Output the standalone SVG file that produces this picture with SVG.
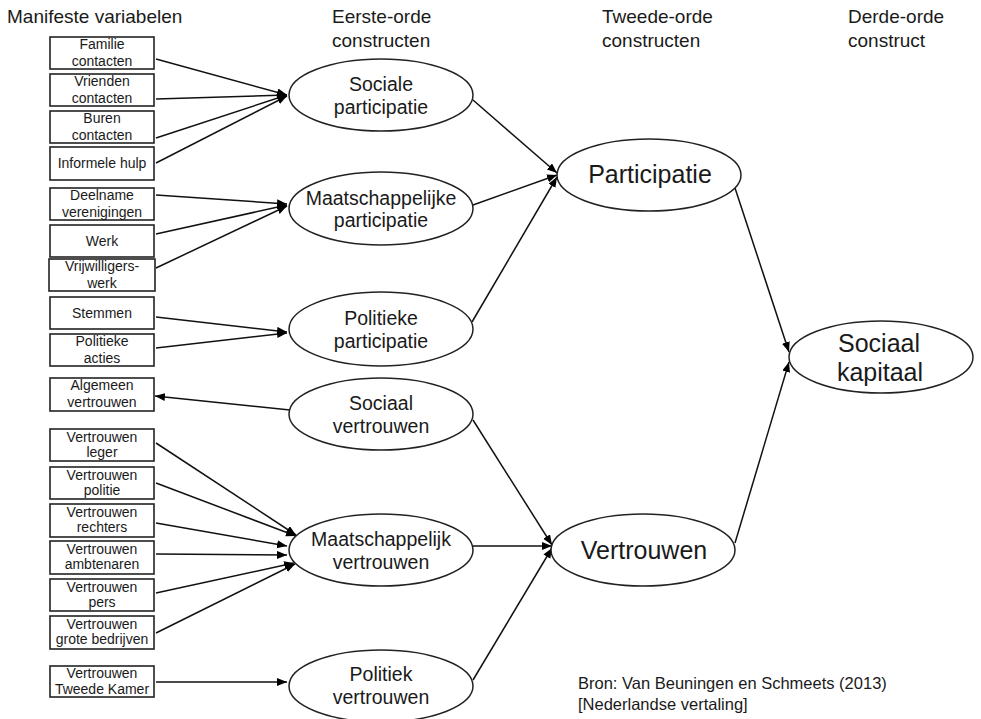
<svg xmlns="http://www.w3.org/2000/svg" width="981" height="719" viewBox="0 0 981 719">
<defs>
<style>
text{font-family:"Liberation Sans",Arial,sans-serif;fill:#1a1a1a}
.h{font-size:19px}
.b{font-size:14px;text-anchor:middle}
.e{font-size:19.5px;text-anchor:middle}
.E{font-size:25px;text-anchor:middle}
.s{font-size:16.5px}
rect{fill:#fff;stroke:#222;stroke-width:1.6}
ellipse{fill:#fff;stroke:#222;stroke-width:1.5}
#connectors line{stroke:#111;stroke-width:1.5;marker-end:url(#ah)}
</style>
<marker id="ah" markerUnits="userSpaceOnUse" markerWidth="11" markerHeight="9" refX="10" refY="4" orient="auto">
<path d="M0,0 L10,4 L0,8 z" fill="#000"/>
</marker>
</defs>
<rect x="0" y="0" width="981" height="719" style="fill:#fff;stroke:none"/>

<g id="headers">
<text class="h" x="7" y="23">Manifeste variabelen</text>
<text class="h" x="332" y="23">Eerste-orde</text>
<text class="h" x="332" y="47">constructen</text>
<text class="h" x="602" y="23">Tweede-orde</text>
<text class="h" x="602" y="47">constructen</text>
<text class="h" x="848" y="23">Derde-orde</text>
<text class="h" x="848" y="47">construct</text>
</g>

<g id="connectors">
<line x1="156" y1="59" x2="287" y2="95"/>
<line x1="156" y1="99" x2="287" y2="95"/>
<line x1="156" y1="138" x2="287" y2="95"/>
<line x1="156" y1="163" x2="287" y2="96"/>
<line x1="156" y1="195" x2="287" y2="204"/>
<line x1="156" y1="234" x2="287" y2="205"/>
<line x1="156" y1="268" x2="287" y2="206"/>
<line x1="156" y1="317" x2="287" y2="332"/>
<line x1="156" y1="348" x2="287" y2="333"/>
<line x1="290" y1="410" x2="155" y2="396"/>
<line x1="156" y1="443" x2="296" y2="535"/>
<line x1="156" y1="483" x2="296" y2="536"/>
<line x1="156" y1="523" x2="287" y2="546"/>
<line x1="156" y1="554" x2="287" y2="555"/>
<line x1="156" y1="593" x2="294" y2="563"/>
<line x1="156" y1="633" x2="295" y2="564"/>
<line x1="156" y1="682" x2="287" y2="682"/>
<line x1="473" y1="100" x2="557" y2="173"/>
<line x1="473" y1="205" x2="557" y2="175"/>
<line x1="472" y1="322" x2="557" y2="177"/>
<line x1="473" y1="420" x2="552" y2="545"/>
<line x1="473" y1="546" x2="552" y2="546"/>
<line x1="473" y1="680" x2="552" y2="548"/>
<line x1="735" y1="188" x2="789" y2="352"/>
<line x1="735" y1="543" x2="789" y2="362"/>
</g>

<g id="n-familie"><rect x="50" y="37" width="104" height="32"/><text class="b" x="102" y="49">Familie</text><text class="b" x="102" y="65.5">contacten</text></g>
<g id="n-vrienden"><rect x="50" y="74" width="104" height="32"/><text class="b" x="102" y="86">Vrienden</text><text class="b" x="102" y="102.5">contacten</text></g>
<g id="n-buren"><rect x="50" y="111" width="104" height="32"/><text class="b" x="102" y="123">Buren</text><text class="b" x="102" y="139.5">contacten</text></g>
<g id="n-informele"><rect x="50" y="147" width="104" height="33"/><text class="b" x="102" y="168">Informele hulp</text></g>
<g id="n-deelname"><rect x="50" y="188" width="104" height="32"/><text class="b" x="102" y="200">Deelname</text><text class="b" x="102" y="216.5">verenigingen</text></g>
<g id="n-werk"><rect x="50" y="225" width="104" height="32"/><text class="b" x="102" y="246">Werk</text></g>
<g id="n-vrijwilligers"><rect x="49" y="259" width="106" height="32"/><text class="b" x="102" y="271">Vrijwilligers-</text><text class="b" x="102" y="287.5">werk</text></g>
<g id="n-stemmen"><rect x="50" y="297" width="104" height="32"/><text class="b" x="102" y="318">Stemmen</text></g>
<g id="n-acties"><rect x="50" y="334" width="104" height="32"/><text class="b" x="102" y="346">Politieke</text><text class="b" x="102" y="362.5">acties</text></g>
<g id="n-algemeen"><rect x="50" y="378" width="104" height="33"/><text class="b" x="102" y="390">Algemeen</text><text class="b" x="102" y="406.5">vertrouwen</text></g>
<g id="n-leger"><rect x="50" y="429" width="104" height="32"/><text class="b" x="102" y="441.5">Vertrouwen</text><text class="b" x="102" y="457">leger</text></g>
<g id="n-politie"><rect x="50" y="467" width="104" height="32"/><text class="b" x="102" y="479.5">Vertrouwen</text><text class="b" x="102" y="495">politie</text></g>
<g id="n-rechters"><rect x="50" y="504" width="104" height="33"/><text class="b" x="102" y="516.5">Vertrouwen</text><text class="b" x="102" y="532">rechters</text></g>
<g id="n-ambtenaren"><rect x="50" y="541" width="104" height="33"/><text class="b" x="102" y="553.5">Vertrouwen</text><text class="b" x="102" y="569">ambtenaren</text></g>
<g id="n-pers"><rect x="50" y="579" width="104" height="32"/><text class="b" x="102" y="591.5">Vertrouwen</text><text class="b" x="102" y="607">pers</text></g>
<g id="n-bedrijven"><rect x="50" y="616" width="104" height="33"/><text class="b" x="102" y="628.5">Vertrouwen</text><text class="b" x="102" y="644">grote bedrijven</text></g>
<g id="n-kamer"><rect x="50" y="666" width="104" height="31"/><text class="b" x="102" y="678">Vertrouwen</text><text class="b" x="102" y="694">Tweede Kamer</text></g>

<g id="n-sociale-participatie"><ellipse cx="381" cy="95" rx="92" ry="36"/><text class="e" x="381" y="91">Sociale</text><text class="e" x="381" y="113.5">participatie</text></g>
<g id="n-maatschappelijke-participatie"><ellipse cx="381" cy="208.5" rx="92" ry="36.5"/><text class="e" x="381" y="204.5">Maatschappelijke</text><text class="e" x="381" y="227">participatie</text></g>
<g id="n-politieke-participatie"><ellipse cx="381" cy="329" rx="92" ry="37"/><text class="e" x="381" y="325">Politieke</text><text class="e" x="381" y="347.5">participatie</text></g>
<g id="n-sociaal-vertrouwen"><ellipse cx="381" cy="414" rx="92" ry="36"/><text class="e" x="381" y="410">Sociaal</text><text class="e" x="381" y="433">vertrouwen</text></g>
<g id="n-maatschappelijk-vertrouwen"><ellipse cx="381" cy="550" rx="92" ry="36"/><text class="e" x="381" y="546">Maatschappelijk</text><text class="e" x="381" y="569">vertrouwen</text></g>
<g id="n-politiek-vertrouwen"><ellipse cx="381" cy="686" rx="92" ry="36"/><text class="e" x="381" y="681">Politiek</text><text class="e" x="381" y="704">vertrouwen</text></g>

<g id="n-participatie"><ellipse cx="649" cy="175" rx="92" ry="36"/><text class="E" x="650" y="183">Participatie</text></g>
<g id="n-vertrouwen"><ellipse cx="643" cy="550" rx="92" ry="36"/><text class="E" x="644" y="559">Vertrouwen</text></g>
<g id="n-sociaal-kapitaal"><ellipse cx="881" cy="357" rx="92" ry="36"/><text class="E" x="879" y="352">Sociaal</text><text class="E" x="880" y="381">kapitaal</text></g>

<g id="source">
<text class="s" x="578" y="689">Bron: Van Beuningen en Schmeets (2013)</text>
<text class="s" x="578" y="710">[Nederlandse vertaling]</text>
</g>
</svg>
